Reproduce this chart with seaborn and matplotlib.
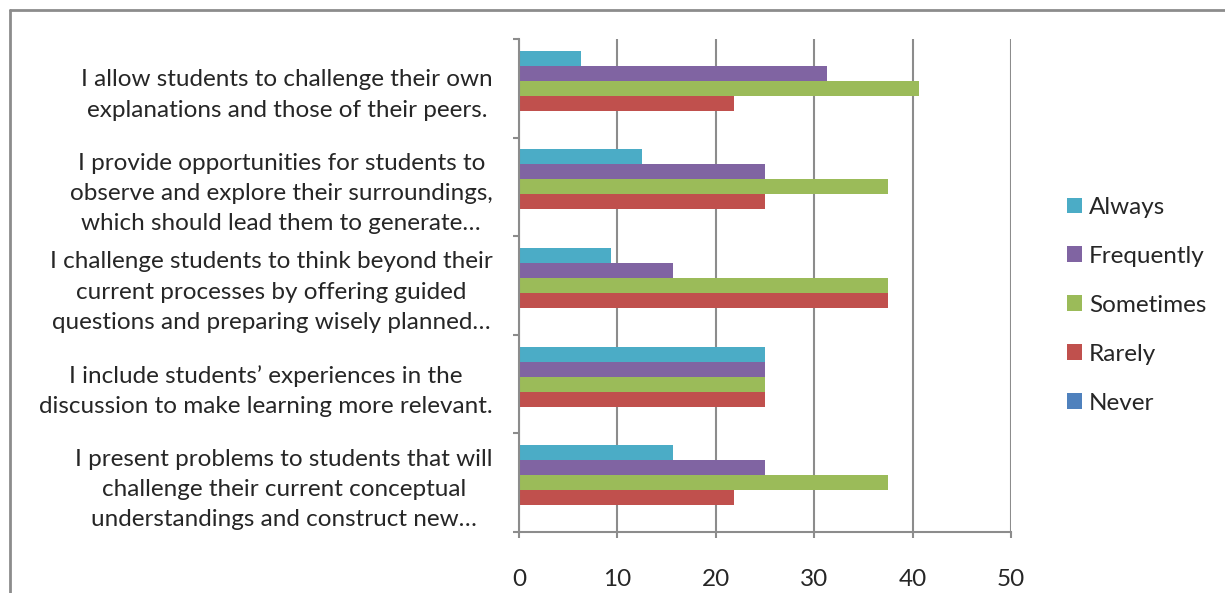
import matplotlib

matplotlib.use("Agg")
import matplotlib.pyplot as plt
import pandas as pd
import seaborn as sns
from matplotlib.lines import Line2D

FONTSIZE = 17.5
GRID = "#8c8c8c"

statements = [
    "I allow students to challenge their own\nexplanations and those of their peers.",
    "I provide opportunities for students to\nobserve and explore their surroundings,\nwhich should lead them to generate\u2026",
    "I challenge students to think beyond their\ncurrent processes by offering guided\nquestions and preparing wisely planned\u2026",
    "I include students\u2019 experiences in the\ndiscussion to make learning more relevant.",
    "I present problems to students that will\nchallenge their current conceptual\nunderstandings and construct new\u2026",
]
levels = ["Always", "Frequently", "Sometimes", "Rarely", "Never"]

always = [6.25, 12.5, 9.375, 25.0, 15.625]
frequently = [31.25, 25.0, 15.625, 25.0, 25.0]
sometimes = [40.625, 37.5, 37.5, 25.0, 37.5]
rarely = [21.875, 25.0, 37.5, 25.0, 21.875]
never = [0.0, 0.0, 0.0, 0.0, 0.0]

x_ticks = [0, 10, 20, 30, 40, 50]


def _palette():
    return {
        "Always": "#4bacc6",
        "Frequently": "#8064a2",
        "Sometimes": "#9bbb59",
        "Rarely": "#c0504d",
        "Never": "#4f81bd",
    }


values = {
    "Always": always,
    "Frequently": frequently,
    "Sometimes": sometimes,
    "Rarely": rarely,
    "Never": never,
}
rows = []
for level in levels:
    for stmt, v in zip(statements, values[level]):
        rows.append({"Statement": stmt, "Level": level, "Percent": v})
df = pd.DataFrame(rows)

sns.set_style("white")
plt.rcParams["font.family"] = ["Lato", "DejaVu Sans"]

fig = plt.figure(figsize=(12.25, 5.93), dpi=100)
ax = fig.add_axes([519 / 1225, 1 - 532 / 593, 492 / 1225, 493 / 593])

sns.barplot(
    data=df,
    y="Statement",
    x="Percent",
    hue="Level",
    order=statements,
    hue_order=levels,
    palette=_palette(),
    orient="h",
    width=0.76,
    saturation=1,
    linewidth=0,
    ax=ax,
)

ax.set_xlim(0, 50)
ax.set_ylim(4.5, -0.5)
ax.set_xticks(x_ticks)
ax.set_xticklabels([str(t) for t in x_ticks], fontsize=FONTSIZE)
ax.tick_params(axis="x", bottom=True, length=4.5, width=1.5, color=GRID, pad=22)
ax.set_yticks(range(len(statements)))
ax.set_yticklabels(statements, fontsize=FONTSIZE, linespacing=1.55,
                   multialignment="center")
ax.tick_params(axis="y", left=False, length=0, pad=19)
ax.set_yticks([i - 0.5 for i in range(len(statements) + 1)], minor=True)
ax.tick_params(axis="y", which="minor", left=True, length=4.5, width=1.5,
               color=GRID)
ax.set_xlabel("")
ax.set_ylabel("")

ax.grid(True, axis="x", color=GRID, linewidth=1.5)
ax.set_axisbelow(True)
for side in ("top", "right"):
    ax.spines[side].set_visible(False)
for side in ("left", "bottom"):
    ax.spines[side].set_color(GRID)
    ax.spines[side].set_linewidth(1.5)

handles, labels = ax.get_legend_handles_labels()
ax.legend(
    handles,
    labels,
    loc="center left",
    bbox_to_anchor=(1.07, 0.46),
    frameon=False,
    fontsize=FONTSIZE,
    handlelength=0.6,
    handleheight=0.6,
    handletextpad=0.3,
    labelspacing=1.15,
)

# outer chart border (only top and left edges are visible in the crop)
fig.add_artist(Line2D([10 / 1225, 1], [1 - 10 / 593] * 2, color=GRID, lw=2))
fig.add_artist(Line2D([10 / 1225] * 2, [0, 1 - 10 / 593], color=GRID, lw=2))

fig.savefig("out.png", dpi=100)
